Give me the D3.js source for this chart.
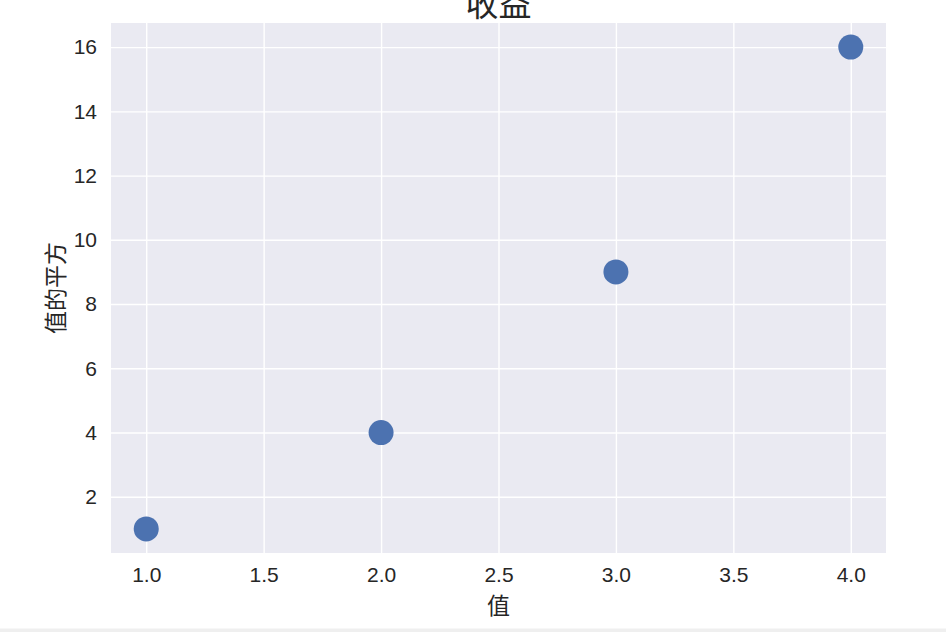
<!DOCTYPE html>
<html><head><meta charset="utf-8">
<script src="https://cdn.jsdelivr.net/npm/d3@7"></script>
<style>body{margin:0;background:#fff;overflow:hidden}</style>
</head><body>
<script>
const xValues = [1, 2, 3, 4];
const yValues = [1, 4, 9, 16];
const xTicks = [1.0, 1.5, 2.0, 2.5, 3.0, 3.5, 4.0];
const yTicks = [2, 4, 6, 8, 10, 12, 14, 16];
const title = "收益";
const xLabel = "值";
const yLabel = "值的平方";

const W = 946, H = 632;
const m = {left: 111, right: 60, top: 23, bottom: 79};
const svg = d3.select("body").append("svg").attr("width", W).attr("height", H);
const font = "'Liberation Sans', Arial, 'Noto Sans CJK SC', sans-serif";

svg.append("rect").attr("x", 0).attr("y", 628.5).attr("width", W).attr("height", 4).attr("fill", "#efefef");

const x = d3.scaleLinear().domain([0.85, 4.15]).range([m.left, W - m.right]);
const y = d3.scaleLinear().domain([0.25, 16.75]).range([H - m.bottom, m.top]);

svg.append("rect").attr("x", m.left).attr("y", m.top)
  .attr("width", W - m.right - m.left).attr("height", H - m.bottom - m.top).attr("fill", "#eaeaf2");

const xAxis = svg.append("g").attr("transform", `translate(0,${H - m.bottom})`)
  .call(d3.axisBottom(x).tickValues(xTicks).tickFormat(d3.format(".1f")).tickSize(-(H - m.bottom - m.top)).tickPadding(14));
const yAxis = svg.append("g").attr("transform", `translate(${m.left},0)`)
  .call(d3.axisLeft(y).tickValues(yTicks).tickFormat(d3.format("d")).tickSize(-(W - m.right - m.left)).tickPadding(14));
[xAxis, yAxis].forEach(g => {
  g.select(".domain").remove();
  g.selectAll(".tick line").attr("stroke", "#fff").attr("stroke-width", 1.4);
  g.selectAll(".tick text").attr("fill", "#262626").style("font-size", "21px").style("font-family", font);
});

svg.append("g").selectAll("circle").data(xValues).join("circle")
  .attr("cx", (d) => x(d)).attr("cy", (d, i) => y(yValues[i])).attr("r", 12.5)
  .attr("fill", "#4c72b0");

svg.append("text").attr("x", (m.left + W - m.right) / 2).attr("y", 16)
  .attr("text-anchor", "middle").attr("fill", "#262626").style("font-size", "33px")
  .style("font-family", "'Noto Sans CJK SC', sans-serif").text(title);
svg.append("text").attr("x", (m.left + W - m.right) / 2).attr("y", 614)
  .attr("text-anchor", "middle").attr("fill", "#262626").style("font-size", "23px")
  .style("font-family", "'Noto Sans CJK SC', sans-serif").text(xLabel);
svg.append("text").attr("transform", `translate(64,${(m.top + H - m.bottom) / 2}) rotate(-90)`)
  .attr("text-anchor", "middle").attr("fill", "#262626").style("font-size", "23px")
  .style("font-family", "'Noto Sans CJK SC', sans-serif").text(yLabel);
</script>
</body></html>
